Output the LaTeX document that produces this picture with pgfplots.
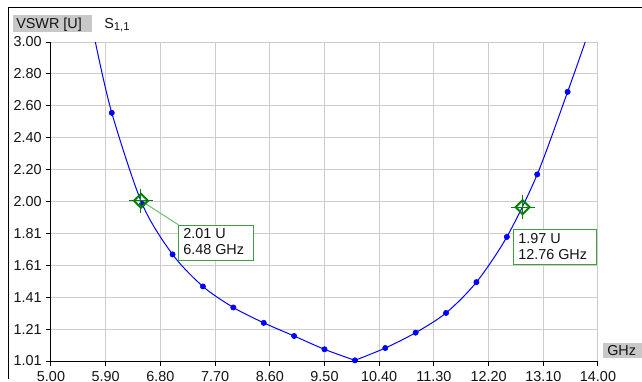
\documentclass[border=0pt]{standalone}
\usepackage{fontspec}
\setmainfont{Liberation Sans}
\usepackage{pgfplots}
\pgfplotsset{compat=1.18}
\definecolor{gridgray}{RGB}{204,204,204}
\definecolor{labgray}{RGB}{200,200,200}
\definecolor{mkgreen}{RGB}{0,128,0}
\definecolor{boxgreen}{RGB}{60,160,60}
\definecolor{congreen}{RGB}{110,190,110}
\definecolor{txt}{RGB}{20,20,20}
\begin{document}
\begin{tikzpicture}[font=\fontsize{10.8}{12}\selectfont]
\begin{scope}[x=0.75pt,y=-0.75pt]
\useasboundingbox (0,0) rectangle (642,379);
\clip (0,0) rectangle (642,379);
\fill[white] (0,0) rectangle (642,379);
\draw[black, line width=0.75pt] (8,7.5) -- (642,7.5);
\draw[black, line width=0.75pt] (8.5,7) -- (8.5,379);
\end{scope}
\begin{axis}[
  at={(38.25pt,-270.75pt)}, anchor=south west,
  width=410.25pt, height=239.25pt, scale only axis,
  xmin=5, xmax=14, ymin=1.01, ymax=3.00,
  axis lines=left, axis line style={-, black, line width=0.75pt},
  grid=major, grid style={gridgray, line width=0.75pt},
  tick align=outside, major tick length=3.75pt,
  tick style={black, line width=0.75pt},
  xtick={5,5.9,6.8,7.7,8.6,9.5,10.4,11.3,12.2,13.1,14},
  xticklabels={5.00,5.90,6.80,7.70,8.60,9.50,10.40,11.30,12.20,13.10,14.00},
  ytick={1.01,1.209,1.408,1.607,1.806,2.005,2.204,2.403,2.602,2.801,3.00},
  yticklabels={1.01,1.21,1.41,1.61,1.81,2.00,2.20,2.40,2.60,2.80,3.00},
  ticklabel style={font=\fontsize{10.8}{12}\selectfont, text=txt},
  xticklabel style={inner sep=0pt, anchor=north, yshift=-3.75pt},
  yticklabel style={inner sep=0pt, anchor=east, xshift=-3pt},
  /pgf/number format/assume math mode=true,
  clip=true,
]
% curve, left branch
\addplot[blue, line width=0.75pt, smooth, mark=none] coordinates {
  (5.73,3.00) (6.0,2.558) (6.5,1.99) (7.0,1.675) (7.5,1.475) (8.0,1.344)
  (8.5,1.248) (9.0,1.166) (9.5,1.083) (10.0,1.014)
};
% curve, right branch
\addplot[blue, line width=0.75pt, smooth, mark=none] coordinates {
  (10.0,1.014) (10.5,1.091) (11.0,1.187) (11.5,1.31) (12.0,1.502)
  (12.5,1.784) (13.0,2.174) (13.5,2.689) (13.79,3.00)
};
% measured points
\addplot[blue, only marks, mark=*, mark size=2pt] coordinates {
  (6.0,2.558) (6.5,1.99) (7.0,1.675) (7.5,1.475) (8.0,1.344)
  (8.5,1.248) (9.0,1.166) (9.5,1.083) (10.0,1.014) (10.5,1.091)
  (11.0,1.187) (11.5,1.31) (12.0,1.502) (12.5,1.784) (13.0,2.174)
  (13.5,2.689)
};
% connector of marker 1
\draw[congreen, line width=0.75pt] (axis cs:6.48,2.01) -- ++(28pt,-18pt);
% markers
\addplot[mkgreen, only marks, mark=+, mark size=9pt, mark options={line width=0.75pt}] coordinates {(6.48,2.01) (12.76,1.97)};
\addplot[mkgreen, only marks, mark=square, mark size=3.7pt, mark options={rotate=45, line width=1.5pt}] coordinates {(6.48,2.01) (12.76,1.97)};
\end{axis}
\begin{scope}[x=0.75pt,y=-0.75pt]
\clip (0,0) rectangle (642,379);
% title
\fill[labgray] (12.5,15) rectangle (92,32);
\node[anchor=base west, inner sep=0pt, text=txt] at (16,28.5) {VSWR [U]};
\node[anchor=base west, inner sep=0pt, text=txt] at (104,28.5) {S\raisebox{-1.5pt}{\fontsize{8.5}{9}\selectfont 1,1}};
% unit label
\fill[labgray] (602.5,342.5) rectangle (642,357.5);
\node[anchor=base west, inner sep=0pt, text=txt] at (607,355) {GHz};
% marker boxes
\draw[boxgreen, fill=white, line width=0.75pt] (178.5,225.5) rectangle (253.5,260.5);
\node[anchor=north west, inner sep=0pt, align=left, text=txt] at (183,228.3) {2.01 U\\6.48 GHz};
\draw[boxgreen, fill=white, line width=0.75pt] (513.5,229.5) rectangle (596.5,264.5);
\node[anchor=north west, inner sep=0pt, align=left, text=txt] at (518,232.7) {1.97 U\\12.76 GHz};
\end{scope}
\end{tikzpicture}
\end{document}
